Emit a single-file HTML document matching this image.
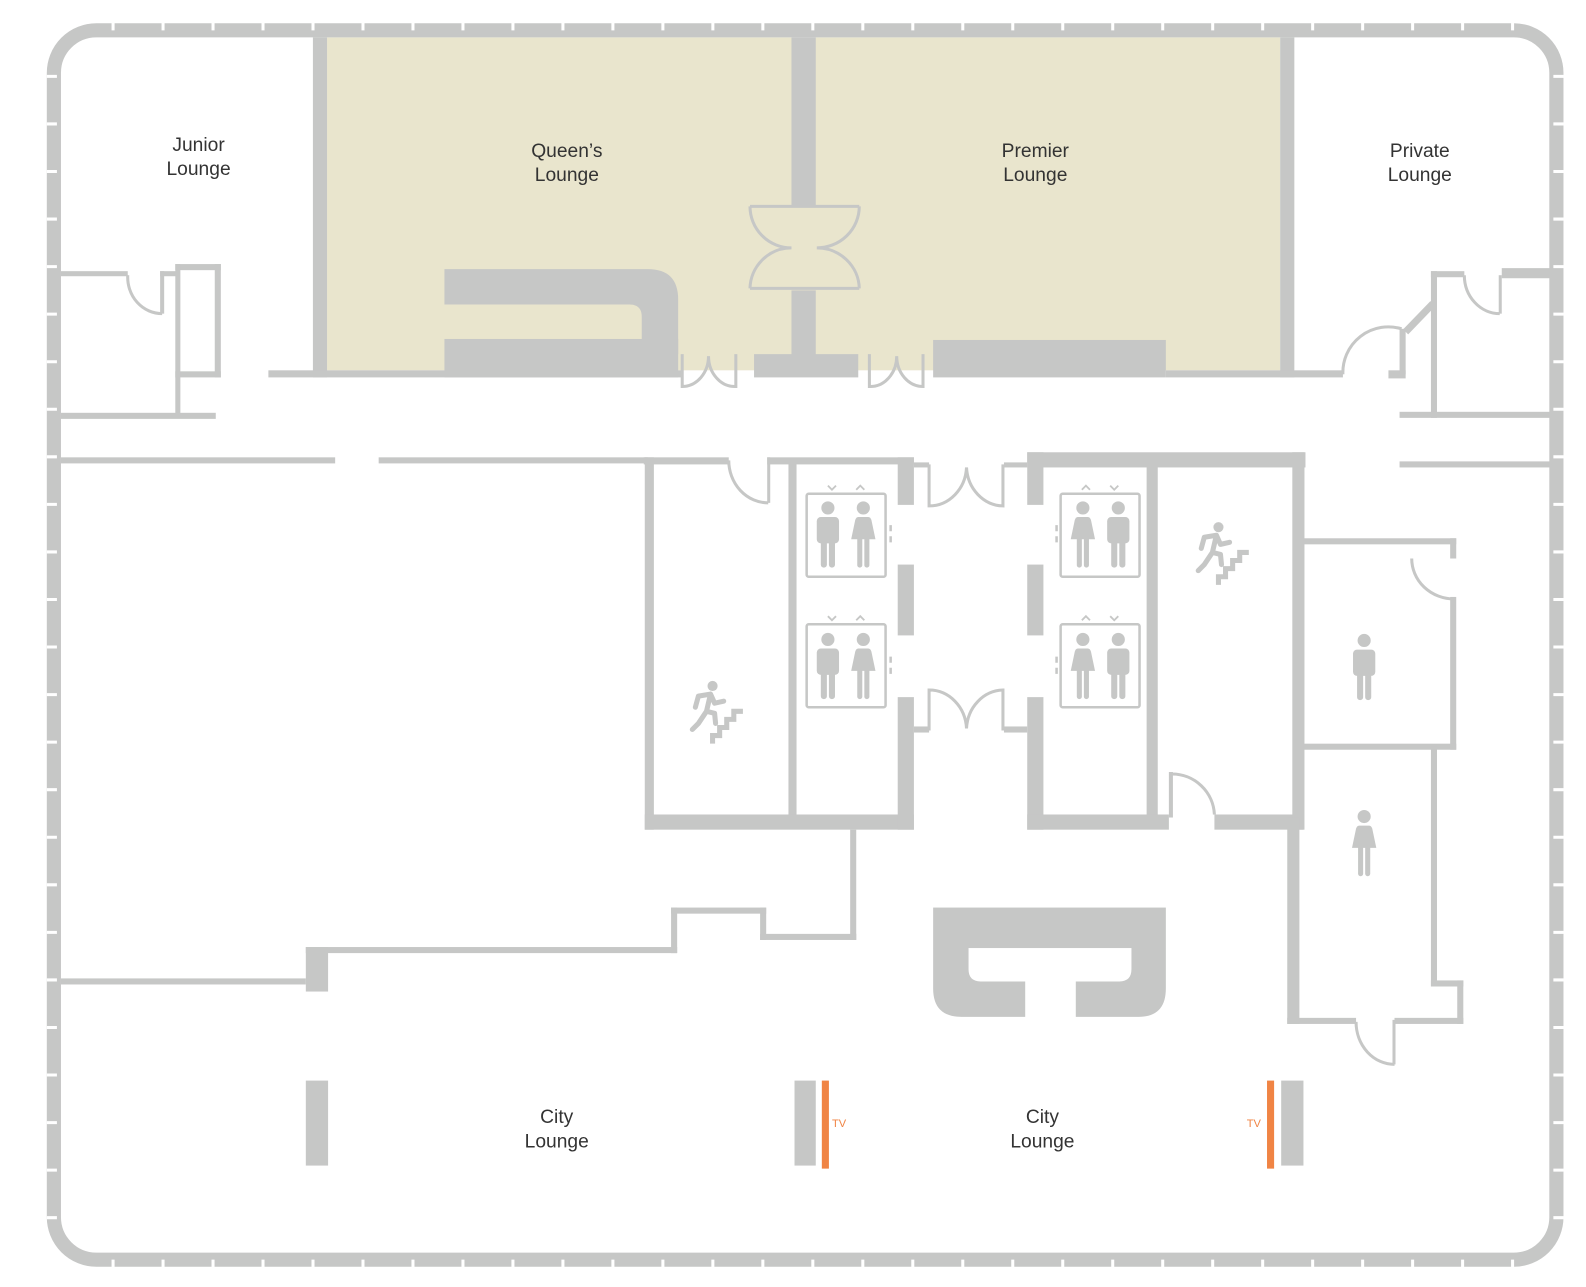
<!DOCTYPE html>
<html><head><meta charset="utf-8"><style>
html,body{margin:0;padding:0;background:#fff;}
svg{display:block;}
text{font-family:"Liberation Sans",sans-serif;}
</style></head><body>
<svg width="1586" height="1287" viewBox="0 0 1567 1272" xmlns="http://www.w3.org/2000/svg">
<defs>
<g id="man" fill="#c6c7c6">
<circle cx="12" cy="7" r="6.5"/>
<rect x="1" y="16" width="22" height="26" rx="4"/>
<rect x="5" y="36" width="6" height="30" rx="3"/>
<rect x="13" y="36" width="6" height="30" rx="3"/>
</g>
<g id="woman" fill="#c6c7c6">
<circle cx="12" cy="7" r="6.5"/>
<path d="M7,16 L17,16 Q19,16 20,19 L24,38 L0,38 L4,19 Q5,16 7,16 Z"/>
<rect x="6" y="34" width="5" height="32" rx="2.5"/>
<rect x="13" y="34" width="5" height="32" rx="2.5"/>
</g>
<g id="stair" fill="none" stroke="#c6c7c6">
<circle cx="22" cy="5" r="5" fill="#c6c7c6" stroke="none"/>
<path d="M20,13 L8,15 L5,26 M20,13 L24,22 L33,20 M20,13 L16,30 L24,32 L25,42 M16,30 L8,42 L2,48" stroke-width="5" stroke-linecap="round" stroke-linejoin="round"/>
<path d="M22,62 V54 H29 V46 H36 V38 H43 V30 H52" stroke-width="5"/>
</g>
<g id="elev" fill="none" stroke="#c6c7c6">
<rect x="0" y="0" width="78" height="82" rx="2" stroke-width="2.5"/>
</g>
</defs>

<rect x="323" y="37" width="942" height="329" fill="#e9e5cd"/>

<g fill="#c6c7c6">
<rect x="309" y="37" width="14" height="336"/>
<rect x="1265" y="37" width="14" height="336"/>
<rect x="782" y="37" width="24" height="166"/>
<rect x="782" y="287" width="24" height="64"/>
<rect x="745" y="350" width="103" height="23"/>
<rect x="265" y="366" width="410" height="7"/>
<rect x="1152" y="366" width="175" height="7"/>
<path d="M439,266 H640 Q670,266 670,296 V350 H634 V313 Q634,301 622,301 H439 Z"/>
<rect x="439" y="335" width="231" height="38"/>
<rect x="922" y="336" width="230" height="37"/>

<rect x="60" y="268" width="66" height="5"/>
<rect x="158" y="268" width="18" height="5"/>
<rect x="158" y="268" width="4" height="42"/>
<rect x="173" y="261" width="45" height="6"/>
<rect x="173" y="367" width="45" height="6"/>
<rect x="212" y="261" width="6" height="112"/>
<rect x="173" y="261" width="5" height="150"/>
<rect x="60" y="408" width="153" height="6"/>
<rect x="60" y="452" width="271" height="6"/>
<rect x="374" y="452" width="266" height="6"/>

<rect x="1372" y="366" width="17" height="8"/>
<rect x="1383" y="325" width="6" height="45"/>
<rect x="1414" y="268" width="6" height="145"/>
<rect x="1414" y="268" width="33" height="6"/>
<rect x="1481" y="272" width="3" height="38"/>
<rect x="1484" y="265" width="50" height="10"/>
<rect x="1383" y="407" width="150" height="6"/>
<rect x="1383" y="456" width="150" height="6"/>

<rect x="636" y="452" width="84" height="7"/>
<rect x="758" y="452" width="145" height="7"/>
<rect x="758" y="452" width="3" height="45"/>
<rect x="637" y="452" width="9" height="368"/>
<rect x="779" y="455" width="8" height="352"/>
<rect x="637" y="805" width="266" height="15"/>
<rect x="887" y="452" width="16" height="47"/>
<rect x="887" y="558" width="16" height="70"/>
<rect x="887" y="689" width="16" height="131"/>
<rect x="903" y="457" width="15" height="5"/>
<rect x="903" y="718" width="15" height="6"/>
<rect x="1015" y="447" width="275" height="15"/>
<rect x="1015" y="447" width="16" height="52"/>
<rect x="1015" y="558" width="16" height="70"/>
<rect x="1015" y="689" width="16" height="131"/>
<rect x="992" y="457" width="23" height="5"/>
<rect x="992" y="718" width="23" height="6"/>
<rect x="1133" y="455" width="11" height="352"/>
<rect x="1015" y="805" width="140" height="15"/>
<rect x="1200" y="805" width="88" height="15"/>
<rect x="1277" y="447" width="12" height="373"/>
<rect x="1155" y="763" width="4" height="45"/>
<rect x="1272" y="808" width="12" height="204"/>
<rect x="1288" y="532" width="151" height="6"/>
<rect x="1433" y="532" width="6" height="20"/>
<rect x="1433" y="590" width="6" height="151"/>
<rect x="1288" y="735" width="151" height="6"/>
<rect x="1414" y="738" width="6" height="237"/>
<rect x="1414" y="969" width="32" height="6"/>
<rect x="1440" y="969" width="6" height="43"/>
<rect x="1272" y="1006" width="68" height="6"/>
<rect x="1378" y="1006" width="68" height="6"/>
<rect x="1376" y="1008" width="3" height="44"/>

<rect x="840" y="820" width="6" height="109"/>
<rect x="751" y="923" width="95" height="6"/>
<rect x="751" y="897" width="6" height="32"/>
<rect x="663" y="897" width="94" height="6"/>
<rect x="663" y="897" width="6" height="45"/>
<rect x="302" y="936" width="367" height="6"/>
<rect x="302" y="936" width="22" height="44"/>
<rect x="60" y="967" width="242" height="6"/>

<rect x="922" y="897" width="230" height="40"/>
<path d="M922,937 H957 V958 Q957,970 969,970 H1013 V1005 H950 Q922,1005 922,977 Z"/>
<path d="M1152,937 H1118 V958 Q1118,970 1106,970 H1063 V1005 H1125 Q1152,1005 1152,977 Z"/>

<rect x="302" y="1068" width="22" height="84"/>
<rect x="785" y="1068" width="21" height="84"/>
<rect x="1266" y="1068" width="22" height="84"/>
</g>
<rect x="812" y="1068" width="7" height="87" fill="#f08444"/>
<rect x="1252" y="1068" width="7" height="87" fill="#f08444"/>
<text x="822" y="1114" font-size="11" fill="#f08444">TV</text>
<text x="1232" y="1114" font-size="11" fill="#f08444">TV</text>

<g fill="none" stroke="#c6c7c6" stroke-width="3">
<path d="M126,272 A34,36 0 0 0 160,310"/>
<path d="M741,204 H849 M741,285 H849"/>
<path d="M741,204 A41,41 0 0 0 782,245 A41,41 0 0 0 741,285"/>
<path d="M849,204 A42,41 0 0 1 807,245 A42,41 0 0 1 849,285"/>
<path d="M674,350 V382 A26,30 0 0 0 700,352 A26,30 0 0 0 727,382 V350"/>
<path d="M859,350 V382 A26,30 0 0 0 886,352 A26,30 0 0 0 912,382 V350"/>
<path d="M1327,370 A45,45 0 0 1 1385,325"/>
<path d="M1389,328 L1416,300" stroke-width="7"/>
<path d="M1447,272 A35,38 0 0 0 1482,310"/>
<path d="M720,455 A39,42 0 0 0 759,497"/>
<path d="M918,459 V500 A37,40 0 0 0 955,462 A37,40 0 0 0 991,500 V459"/>
<path d="M918,722 V682 A37,40 0 0 1 955,720 A37,40 0 0 1 991,682 V722"/>
<path d="M1158,765 A42,42 0 0 1 1200,805"/>
<path d="M1395,552 A42,40 0 0 0 1437,592"/>
<path d="M1340,1010 A38,42 0 0 0 1378,1052"/>
</g>

<use href="#elev" x="797" y="488"/>
<use href="#elev" x="797" y="617"/>
<use href="#elev" x="1048" y="488"/>
<use href="#elev" x="1048" y="617"/>
<use href="#man" x="806" y="495"/><use href="#woman" x="841" y="495"/>
<use href="#man" x="806" y="625"/><use href="#woman" x="841" y="625"/>
<use href="#woman" x="1058" y="495"/><use href="#man" x="1093" y="495"/>
<use href="#woman" x="1058" y="625"/><use href="#man" x="1093" y="625"/>
<use href="#man" x="1336" y="626"/>
<use href="#woman" x="1336" y="800"/>
<g fill="none" stroke="#c6c7c6" stroke-width="1.8">
<path d="M818,480 l4,4 l4,-4 M846,484 l4,-4 l4,4"/>
<path d="M818,609 l4,4 l4,-4 M846,613 l4,-4 l4,4"/>
<path d="M1069,484 l4,-4 l4,4 M1097,480 l4,4 l4,-4"/>
<path d="M1069,613 l4,-4 l4,4 M1097,609 l4,4 l4,-4"/>
<path d="M880,519 v6 M880,530 v6 M880,649 v6 M880,660 v6 M1044,519 v6 M1044,530 v6 M1044,649 v6 M1044,660 v6" stroke-width="2.5"/>
</g>
<use href="#stair" x="682" y="673"/>
<use href="#stair" x="1182" y="516"/>

<rect x="53" y="30" width="1485" height="1215" rx="42" fill="none" stroke="#c6c7c6" stroke-width="14"/>
<g stroke="#fff" stroke-width="3" fill="none">
<line x1="110" y1="25" x2="1505" y2="25" stroke-dasharray="3 46.4" stroke-width="10"/>
<line x1="110" y1="1250" x2="1505" y2="1250" stroke-dasharray="3 46.4" stroke-width="10"/>
<line x1="51" y1="74" x2="51" y2="1215" stroke-dasharray="3 44" stroke-width="10"/>
<line x1="1540" y1="74" x2="1540" y2="1215" stroke-dasharray="3 44" stroke-width="10"/>
</g>

<g font-size="19" fill="#333" text-anchor="middle">
<text x="196" y="149">Junior</text><text x="196" y="173">Lounge</text>
<text x="560" y="155">Queen’s</text><text x="560" y="179">Lounge</text>
<text x="1023" y="155">Premier</text><text x="1023" y="179">Lounge</text>
<text x="1403" y="155">Private</text><text x="1403" y="179">Lounge</text>
<text x="550" y="1110">City</text><text x="550" y="1134">Lounge</text>
<text x="1030" y="1110">City</text><text x="1030" y="1134">Lounge</text>
</g>
</svg>
</body></html>
